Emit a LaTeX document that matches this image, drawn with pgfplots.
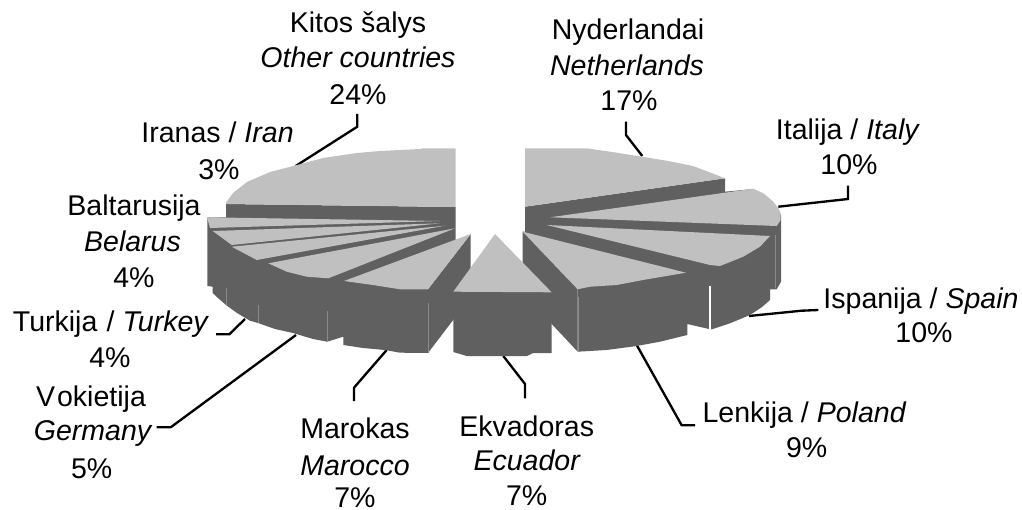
\documentclass[border=0pt]{standalone}
\usepackage{pgfplots}
\pgfplotsset{compat=1.18}
\usepackage{fontspec}
\setmainfont{Liberation Sans}
\definecolor{lighttop}{HTML}{C0C0C0}
\definecolor{darkside}{HTML}{606060}
\definecolor{edgeline}{HTML}{8A8A8A}
\tikzset{lab/.style={anchor=base,inner sep=0pt,font=\fontsize{21.4}{25}\selectfont}}
\pgfplotsset{
  top/.style={fill=lighttop,draw=none},
  side/.style={fill=darkside,draw=none},
  edge/.style={draw=edgeline,line width=0.6pt},
  leader/.style={draw=black,line width=1.75pt,line join=miter}
}
\begin{document}
\begin{tikzpicture}
\path[use as bounding box] (0,0) rectangle (766.5pt,382.5pt);
\begin{axis}[scale only axis,width=766.5pt,height=382.5pt,at={(0,0)},anchor=south west,
  hide axis,clip=false,xmin=0,xmax=1022,ymin=0,ymax=510,y dir=reverse]
% leaders
\addplot[leader] coordinates {(626,121.7)(626,135)(642.3,156)};
\addplot[leader] coordinates {(848,185.7)(848,199)(778.3,206.7)};
\addplot[leader] coordinates {(818.3,310)(801.7,310.7)(749,316)};
\addplot[leader] coordinates {(695,425.3)(681.7,425.3)(636.7,345)};
\addplot[leader] coordinates {(525,398.3)(525,384)(503.3,356)};
\addplot[leader] coordinates {(354,401)(354,387.7)(386.7,350)};
\addplot[leader] coordinates {(156.7,427.3)(170.7,427.3)(296,335)};
\addplot[leader] coordinates {(216,334.3)(229.3,334.3)(245,319)};
\addplot[leader] coordinates {(357.3,114)(357.3,126.7)(295.7,166)};
% left body
\addplot[side] coordinates {(226,204)(455.7,207)(455.7,250)(428,289)(428,353)(400,352.7)(385,350)(363,348)(343.3,345)(343.3,336.7)(327.3,341.7)(313,339)(293,333)(275,329)(258,323)(250,320.7)(237,313)(226,305)(218,298)(212.7,293)(212.7,286.7)(207.3,286)(207.3,217.3)(226,217.3)};
\addplot[side] coordinates {(470.7,234)(428,289.3)(428,353)(470.7,297)};
% left tops
\addplot[top] coordinates {(455.7,148.3)(455.7,207)(226,204)(226,202.7)(233,193)(247,182)(270,172)(297,165)(323,158)(357,153)(380,151)(420,149)(423,148.3)};
\addplot[top] coordinates {(207,217.3)(440,221)(210,228)};
\addplot[top] coordinates {(212.7,231)(440,223.3)(231.7,245)};
\addplot[top] coordinates {(231.7,246.7)(445,225.7)(256.7,260)};
\addplot[top] coordinates {(268.3,263.3)(455,228.3)(328.3,278.3)(306.7,276.7)(286.7,271.7)};
\addplot[top] coordinates {(344,281)(470.7,234)(428,289.3)(400,289.3)(373,285)};
% left edges
\addplot[edge] coordinates {(226,288)(226,305)};
\addplot[edge] coordinates {(258.3,305)(258.3,323)};
\addplot[edge] coordinates {(327.3,311)(327.3,341.7)};
\addplot[edge] coordinates {(428.3,303)(428.3,353)};
% right body
\addplot[side] coordinates {(525,206.7)(725,178.3)(725,191.7)(753,189)(781,215)(781,281.7)(776.7,289.3)(770,289.3)(770,300)(762,307)(750,315)(730,323.3)(712,329.3)(709,329)(687.3,324)(687.3,335)(660,341.7)(636.7,346)(606.7,350)(577.7,351.7)(577.7,289.3)(522.7,231.7)(525,231.7)};
\addplot[side] coordinates {(522.7,231.7)(577.7,289.3)(577.7,351.7)(522.7,293)};
\addplot[fill=white,draw=none] coordinates {(708.7,286)(711,286)(711,329.3)(708.7,329.3)};
% Ecuador
\addplot[side] coordinates {(453.3,291.7)(551.7,292.3)(551.7,353)(533,353)(527,356)(466.7,356)(453.3,352)};
\addplot[top] coordinates {(495,234)(453.3,291.7)(551.7,292.3)};
% right tops
\addplot[top] coordinates {(525,148.3)(586.7,148.3)(616.7,152.7)(666.7,160.7)(693,166)(716.7,175)(725,178.3)(525,206.7)};
\addplot[top] coordinates {(550,217.3)(753.3,188.7)(763.3,193.3)(773.3,201.7)(778.3,208.3)(780.7,213.3)(780.7,220)(776.7,226)};
\addplot[top] coordinates {(546.7,225)(770,236)(760,246.7)(743.3,256.7)(720,266)(710,265)};
\addplot[top] coordinates {(522.7,231.7)(686,272.7)(643,280)(616.7,285)(590,286.7)(577.7,289.3)};
% right edges
\addplot[edge] coordinates {(578.5,296.7)(578.5,351.7)};
\addplot[edge] coordinates {(775.7,235)(775.7,288)};
% labels
\node[lab] at (axis cs:358,33) {Kitos šalys};
\node[lab] at (axis cs:358,68) {\itshape Other countries};
\node[lab] at (axis cs:358,105) {24\%};
\node[lab] at (axis cs:217.5,142.7) {Iranas / \textit{Iran}};
\node[lab] at (axis cs:219,180) {3\%};
\node[lab] at (axis cs:628,39.3) {Nyderlandai};
\node[lab] at (axis cs:627,76) {\itshape Netherlands};
\node[lab] at (axis cs:629,111) {17\%};
\node[lab] at (axis cs:848,140) {Italija / \textit{Italy}};
\node[lab] at (axis cs:849,175) {10\%};
\node[lab] at (axis cs:921,308) {Ispanija / \textit{Spain}};
\node[lab] at (axis cs:924,342.7) {10\%};
\node[lab] at (axis cs:804.5,422.7) {Lenkija / \textit{Poland}};
\node[lab] at (axis cs:806.7,457.7) {9\%};
\node[lab] at (axis cs:526.7,436) {Ekvadoras};
\node[lab] at (axis cs:526.7,470.7) {\itshape Ecuador};
\node[lab] at (axis cs:526.7,505.7) {7\%};
\node[lab] at (axis cs:355,438.3) {Marokas};
\node[lab] at (axis cs:355,475) {\itshape Marocco};
\node[lab] at (axis cs:355,507) {7\%};
\node[lab] at (axis cs:91,406.7) {V\kern1.5pt okietija};
\node[lab] at (axis cs:92.5,440) {\itshape Germany};
\node[lab] at (axis cs:91.7,478) {5\%};
\node[lab] at (axis cs:111,331.7) {Turkija\kern1pt{} / \textit{Turkey}};
\node[lab] at (axis cs:110,367) {4\%};
\node[lab] at (axis cs:134,215) {Baltarusija};
\node[lab] at (axis cs:132.5,251.7) {\itshape Belarus};
\node[lab] at (axis cs:134,287.3) {4\%};
\end{axis}
\end{tikzpicture}
\end{document}
